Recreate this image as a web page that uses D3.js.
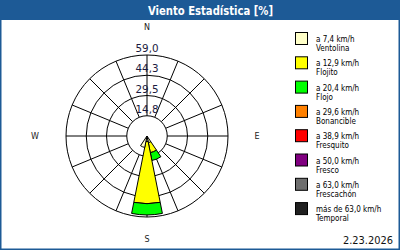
<!DOCTYPE html>
<html>
<head>
<meta charset="utf-8">
<script src="https://cdnjs.cloudflare.com/ajax/libs/d3/7.8.5/d3.min.js"></script>
<style>
  body { margin: 0; background: #fff; }
  svg { display: block; }
</style>
</head>
<body>
<svg id="chart" width="400" height="250"></svg>
<script>
// directions, clockwise from north
var directions = ["N", "NNE", "NE", "ENE", "E", "ESE", "SE", "SSE",
                  "S", "SSW", "SW", "WSW", "W", "WNW", "NW", "NNW"];

// share of time [%] per direction and speed class (not cumulative)
var ventolina  = [0, 0, 0, 0, 0, 0, 0, 5.0, 4.0, 8.5, 0, 0, 0, 0, 0, 0];
var flojito    = [0, 0, 0, 0, 0, 0, 0, 7.4, 45.3, 0, 0, 0, 0, 0, 0, 0];
var flojo      = [0, 0, 0, 0, 0, 0, 0, 5.8, 8.2, 0, 0, 0, 0, 0, 0, 0];
var bonancible = [0, 0, 0, 0, 0, 0, 0, 0, 0, 0, 0, 0, 0, 0, 0, 0];
var fresquito  = [0, 0, 0, 0, 0, 0, 0, 0, 0, 0, 0, 0, 0, 0, 0, 0];
var fresco     = [0, 0, 0, 0, 0, 0, 0, 0, 0, 0, 0, 0, 0, 0, 0, 0];
var frescachon = [0, 0, 0, 0, 0, 0, 0, 0, 0, 0, 0, 0, 0, 0, 0, 0];
var temporal   = [0, 0, 0, 0, 0, 0, 0, 0, 0, 0, 0, 0, 0, 0, 0, 0];

var speedLabels = ["a 7,4 km/h", "a 12,9 km/h", "a 20,4 km/h", "a 29,6 km/h",
                   "a 38,9 km/h", "a 50,0 km/h", "a 63,0 km/h", "más de 63,0 km/h"];
var classNames = ["Ventolina", "Flojito", "Flojo", "Bonancible",
                  "Fresquito", "Fresco", "Frescachón", "Temporal"];
var classColors = ["#ffffc8", "#ffff00", "#00ff00", "#ff8000",
                   "#ff0000", "#800080", "#6e6e6e", "#202020"];

var ringTicks = [14.75, 29.5, 44.25, 59];
var maxValue = 59;
var title = "Viento Estadística [%]";
var dateLabel = "2.23.2026";

var series = [ventolina, flojito, flojo, bonancible, fresquito, fresco, frescachon, temporal];

var svg = d3.select("#chart");
var W = 400, H = 250;
var blue = "#1d5a96";

// frame + title bar
svg.append("rect").attr("x", 0.5).attr("y", 0.5).attr("width", W - 1).attr("height", H - 1)
  .attr("fill", "#fff").attr("stroke", blue).attr("stroke-width", 2);
svg.append("rect").attr("x", 0).attr("y", 0).attr("width", W).attr("height", 20).attr("fill", blue);
svg.append("text").attr("x", 210.5).attr("y", 14.5)
  .attr("text-anchor", "middle")
  .attr("textLength", 125).attr("lengthAdjust", "spacingAndGlyphs")
  .style("font", "bold 12px 'DejaVu Sans', sans-serif")
  .attr("fill", "#fff")
  .text(title);

var cx = 147, cy = 136;
var r = d3.scaleLinear().domain([0, maxValue]).range([0, 81]);
var step = 2 * Math.PI / directions.length;
var fmt = d3.formatLocale({decimal: ",", thousands: ".", grouping: [3], currency: ["", ""]}).format(".1f");

var g = svg.append("g").attr("transform", "translate(" + cx + "," + cy + ")");

// rings
g.selectAll("circle.ring").data(ringTicks).enter().append("circle")
  .attr("class", "ring")
  .attr("r", function(d) { return r(d); })
  .attr("fill", "none").attr("stroke", "#000").attr("stroke-width", 1);

// spokes from the inner ring out
g.selectAll("line.spoke").data(directions).enter().append("line")
  .attr("class", "spoke")
  .attr("x1", function(d, i) { return Math.sin(i * step) * r(ringTicks[0]); })
  .attr("y1", function(d, i) { return -Math.cos(i * step) * r(ringTicks[0]); })
  .attr("x2", function(d, i) { return Math.sin(i * step) * r(maxValue); })
  .attr("y2", function(d, i) { return -Math.cos(i * step) * r(maxValue); })
  .attr("stroke", "#000").attr("stroke-width", 1);

// stacked wedges
var stacked = [];
directions.forEach(function(dir, i) {
  var acc = 0;
  series.forEach(function(s, k) {
    if (s[i] > 0) {
      stacked.push({dir: i, k: k, y0: acc, y1: acc + s[i]});
    }
    acc += s[i];
  });
});
var arc = d3.arc()
  .innerRadius(function(d) { return r(d.y0); })
  .outerRadius(function(d) { return r(d.y1); })
  .startAngle(function(d) { return d.dir * step - step / 2; })
  .endAngle(function(d) { return d.dir * step + step / 2; });

g.selectAll("path.wedge").data(stacked).enter().append("path")
  .attr("class", "wedge")
  .attr("d", arc)
  .attr("fill", function(d) { return classColors[d.k]; })
  .attr("stroke", "#000").attr("stroke-width", 1);

// ring labels
g.selectAll("text.tick").data(ringTicks).enter().append("text")
  .attr("class", "tick")
  .attr("x", 0).attr("y", function(d) { return -r(d) - 3; })
  .attr("text-anchor", "middle")
  .attr("textLength", 23).attr("lengthAdjust", "spacingAndGlyphs")
  .style("font", "11px 'DejaVu Sans', sans-serif")
  .attr("fill", "#1a1a40")
  .text(function(d) { return fmt(d); });

// compass letters
var compass = [["N", 0, -109], ["E", 110, 0], ["S", 0, 103], ["W", -112, 0]];
g.selectAll("text.cmp").data(compass).enter().append("text")
  .attr("class", "cmp")
  .attr("x", function(d) { return d[1]; })
  .attr("y", function(d) { return d[2] + 3; })
  .attr("text-anchor", "middle")
  .style("font", "8px 'DejaVu Sans', sans-serif")
  .attr("fill", "#222")
  .text(function(d) { return d[0]; });

// legend
var leg = svg.append("g").attr("transform", "translate(295,32)");
var item = leg.selectAll("g").data(classNames).enter().append("g")
  .attr("transform", function(d, i) { return "translate(0," + (i * 24.3) + ")"; });
item.append("rect").attr("x", 0.5).attr("y", 0.5).attr("width", 12).attr("height", 12)
  .attr("fill", function(d, i) { return classColors[i]; })
  .attr("stroke", "#000");
item.append("text").attr("x", 21).attr("y", 10)
  .style("font", "8px 'DejaVu Sans Condensed', 'DejaVu Sans', sans-serif")
  .text(function(d, i) { return speedLabels[i]; });
item.append("text").attr("x", 21).attr("y", 19)
  .style("font", "8px 'DejaVu Sans Condensed', 'DejaVu Sans', sans-serif")
  .text(function(d) { return d; });

svg.append("text").attr("x", 393).attr("y", 244)
  .attr("text-anchor", "end")
  .attr("textLength", 50).attr("lengthAdjust", "spacingAndGlyphs")
  .style("font", "11px 'DejaVu Sans', sans-serif")
  .attr("fill", "#111")
  .text(dateLabel);
</script>
</body>
</html>
